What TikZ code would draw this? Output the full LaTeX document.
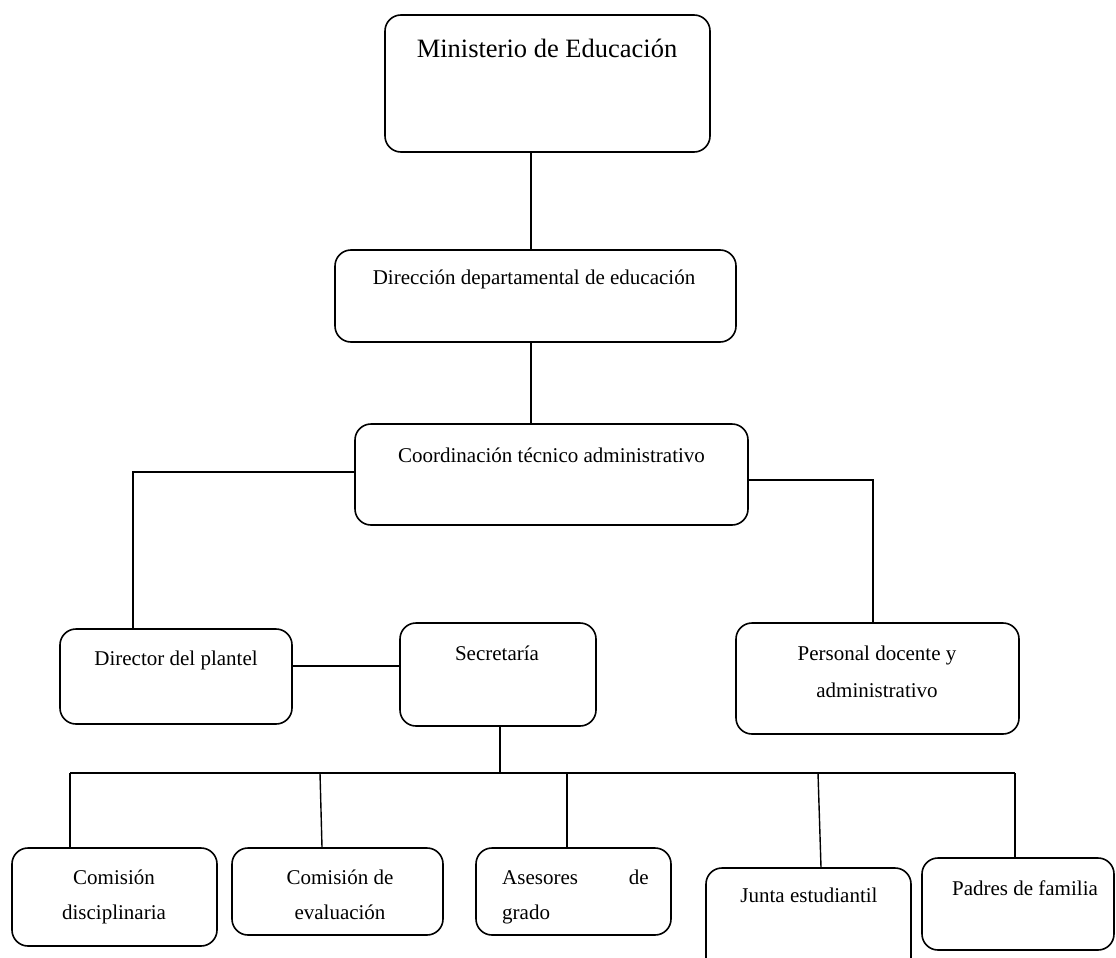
\documentclass[tikz,border=0pt]{standalone}
\usepackage{fontspec}
\setmainfont{Liberation Serif}
\begin{document}
\begin{tikzpicture}[x=1pt,y=-1pt,
  box/.style={draw,line width=1.6pt,rounded corners=16pt,inner sep=0pt},
  conn/.style={line width=1.4pt},
  txt/.style={inner sep=0pt,anchor=base,font=\fontsize{21}{25}\selectfont},
  txtbig/.style={inner sep=0pt,anchor=base,font=\fontsize{26.5}{32}\selectfont}]
\useasboundingbox (0,0) rectangle (1116,958);
\clip (0,0) rectangle (1116,958);
% boxes
\node[box,minimum width=325pt,minimum height=137pt] (min) at (547.5,83.5) {};
\node[box,minimum width=401pt,minimum height=92pt] (dir) at (535.5,296) {};
\node[box,minimum width=393pt,minimum height=101pt] (coo) at (551.5,474.5) {};
\node[box,minimum width=232pt,minimum height=95pt] (dpl) at (176,676.5) {};
\node[box,minimum width=196pt,minimum height=103pt] (sec) at (498,674.5) {};
\node[box,minimum width=283pt,minimum height=111pt] (per) at (877.5,678.5) {};
\node[box,minimum width=205pt,minimum height=98pt] (cd) at (114.5,897) {};
\node[box,minimum width=211pt,minimum height=87pt] (ce) at (337.5,891.5) {};
\node[box,minimum width=195pt,minimum height=87pt] (as) at (573.5,891.5) {};
\node[box,minimum width=205pt,minimum height=107pt] (ju) at (808.5,921.5) {};
\node[box,minimum width=192pt,minimum height=92pt] (pa) at (1018,904) {};
% texts
\node[txtbig] (tmin) at (547,58) {Ministerio de Educación};
\node[txt] (tdir) at (534,284) {Dirección departamental de educación};
\node[txt] (tcoo) at (551.5,462) {Coordinación técnico administrativo};
\node[txt] (tdpl) at (176,665) {Director del plantel};
\node[txt] (tsec) at (497,660) {Secretaría};
\node[txt] (tper1) at (877,660) {Personal docente y};
\node[txt] (tper2) at (877,697) {administrativo};
\node[txt] (tcd1) at (114,884) {Comisión};
\node[txt] (tcd2) at (114,919) {disciplinaria};
\node[txt] (tce1) at (340,884) {Comisión de};
\node[txt] (tce2) at (340,919) {evaluación};
\node[txt,anchor=base west] (tas1) at (502,884) {Asesores};
\node[txt,anchor=base east] (tas2) at (649,884) {de};
\node[txt,anchor=base west] (tas3) at (502,919) {grado};
\node[txt] (tju) at (809,902) {Junta estudiantil};
\node[txt] (tpa) at (1025,895) {Padres de familia};
% helper coordinates
\coordinate (xa) at (531,0);
\coordinate (yl) at (0,472);
\coordinate (xl) at (133,0);
\coordinate (yr) at (0,480);
\coordinate (xr) at (873,0);
\coordinate (ym) at (0,666);
\coordinate (xs) at (500,0);
\coordinate (busL) at (70,773);
\coordinate (busR) at (1015,773);
\coordinate (b2) at (320,773);
\coordinate (b3) at (567,773);
\coordinate (b4) at (818,773);
% connectors
\draw[conn] (min.south -| xa) -- (dir.north -| xa);
\draw[conn] (dir.south -| xa) -- (coo.north -| xa);
\draw[conn] (coo.west |- yl) -| (dpl.north -| xl);
\draw[conn] (coo.east |- yr) -| (per.north -| xr);
\draw[conn] (dpl.east |- ym) -- (sec.west |- ym);
\draw[conn] (sec.south -| xs) -- (busL -| xs);
\draw[conn] (busL) -- (busR);
\draw[conn] (busL) -- (cd.north -| busL);
\draw[conn] (b2) -- ([xshift=2pt]ce.north -| b2);
\draw[conn] (b3) -- (as.north -| b3);
\draw[conn] (b4) -- ([xshift=3pt]ju.north -| b4);
\draw[conn] (busR) -- (pa.north -| busR);
\end{tikzpicture}
\end{document}
